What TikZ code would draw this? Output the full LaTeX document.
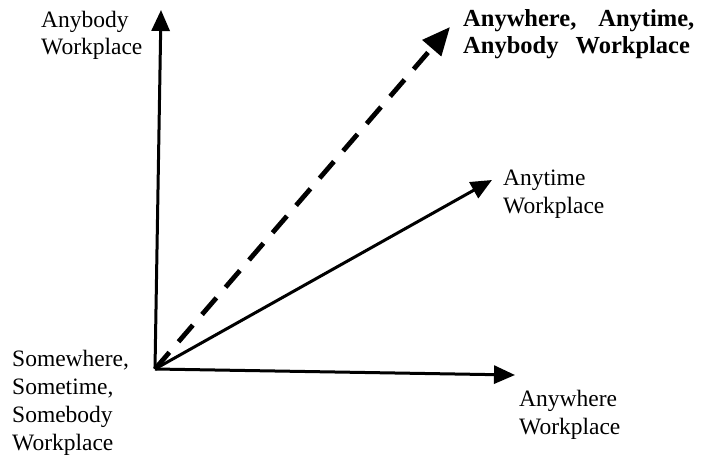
\documentclass[tikz,border=0pt]{standalone}
\usepackage{fontspec}
\setmainfont{Liberation Serif}
\usetikzlibrary{arrows.meta}

\begin{document}
\begin{tikzpicture}[x=1pt,y=-1pt,
  axis/.style={line width=3pt,-{Triangle[length=21pt,width=18pt]}},
  goal/.style={line width=4.8pt,dash pattern=on 22pt off 14pt,-{Triangle[length=28pt,width=24pt]}},
  lbl/.style={anchor=base west,align=left,inner sep=0pt,font=\fontsize{23.5}{27.8}\selectfont},
  boldlbl/.style={lbl,font=\fontsize{24.5}{27.8}\selectfont\bfseries}]

   \useasboundingbox (0,0) rectangle (721,460);

   % origin and arrow ends
   \coordinate (O) at (155,369);
   \coordinate (ytip) at (161,10);
   \coordinate (xtip) at (515,375);
   \coordinate (ttip) at (492,180);
   \coordinate (atip) at (450,27);

   \draw[axis] (O) -- (ytip);
   \draw[axis] (O) -- (xtip);
   \draw[axis] (O) -- (ttip);
   \draw[goal] (O) -- (atip);

   % labels (base = last line)
   \node[lbl] (anybody) at (41,55) {Anybody\\Workplace};
   \node[lbl] (somewhere) at (12,450) {Somewhere,\\Sometime,\\Somebody\\Workplace};
   \node[lbl] (anytime) at (503,213) {Anytime\\Workplace};
   \node[lbl] (anywhere) at (519,434) {Anywhere\\Workplace};
   \node[boldlbl] (all) at (463,54) {Anywhere,\hspace{0.9em}Anytime,\\Anybody\hspace{0.7em}Workplace};

\end{tikzpicture}
\end{document}
